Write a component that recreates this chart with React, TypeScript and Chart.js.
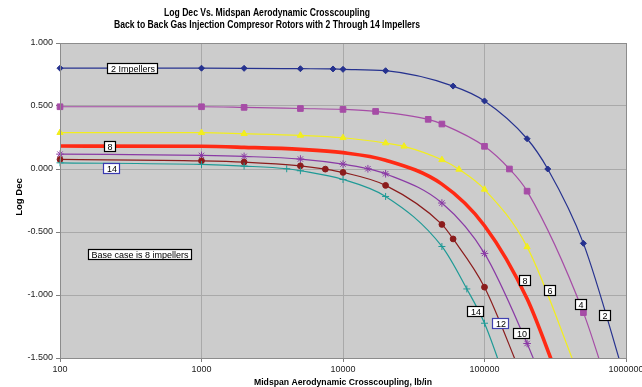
import React, { useEffect, useRef } from "react";
import { Chart, registerables } from "chart.js";

Chart.register(...registerables);

const FONT = '"Liberation Sans", Arial, Helvetica, sans-serif';

const TITLE_LINES = [
  "Log Dec Vs. Midspan Aerodynamic Crosscoupling",
  "Back to Back Gas Injection Compresor Rotors with 2 Through 14 Impellers",
];
const X_TITLE = "Midspan Aerodynamic Crosscoupling, lb/in";
const Y_TITLE = "Log Dec";

const X_TICKS = [100, 1000, 10000, 100000, 1000000];
const Y_TICKS = [-1.5, -1.0, -0.5, 0.0, 0.5, 1.0];

// Series: 2 impellers
const X_2 = [100, 1000, 2000, 5000, 8500, 10000, 20000, 60000, 100000, 200000, 280000, 500000, 1000000];
const Y_2 = [0.8, 0.8, 0.799, 0.796, 0.794, 0.791, 0.78, 0.658, 0.54, 0.24, 0.0, -0.59, -1.69];
// 4 impellers
const X_4 = [100, 1000, 2000, 5000, 10000, 17000, 40000, 50000, 100000, 150000, 200000, 500000, 700000];
const Y_4 = [0.494, 0.494, 0.489, 0.48, 0.473, 0.457, 0.394, 0.357, 0.18, 0.0, -0.176, -1.14, -1.63];
// 6 impellers
const X_6 = [100, 1000, 2000, 5000, 10000, 20000, 27000, 50000, 66000, 100000, 200000, 450000];
const Y_6 = [0.288, 0.288, 0.28, 0.267, 0.248, 0.206, 0.18, 0.073, -0.003, -0.162, -0.618, -1.6];
// 8 impellers (base case)
const X_8 = [100, 1000, 2000, 5000, 10000, 20000, 50000, 100000, 200000, 320000];
const Y_8 = [0.182, 0.18, 0.172, 0.156, 0.13, 0.07, -0.12, -0.45, -1.03, -1.61];
// 10 impellers
const X_10 = [100, 1000, 2000, 5000, 10000, 15000, 20000, 50000, 100000, 200000, 240000];
const Y_10 = [0.118, 0.108, 0.1, 0.079, 0.039, 0.002, -0.038, -0.27, -0.67, -1.385, -1.6];
// 12 impellers
const X_12 = [100, 1000, 2000, 5000, 7500, 10000, 20000, 50000, 60000, 100000, 180000];
const Y_12 = [0.076, 0.065, 0.055, 0.025, -0.001, -0.027, -0.13, -0.44, -0.555, -0.938, -1.62];
// 14 impellers
const X_14 = [100, 1000, 2000, 4000, 5000, 10000, 20000, 50000, 75000, 100000, 135000];
const Y_14 = [0.049, 0.036, 0.023, 0.002, -0.014, -0.083, -0.218, -0.615, -0.952, -1.224, -1.62];

// Annotation labels: text, x value, y value, border colour
const LABEL_TEXTS = ["2 Impellers", "8", "14", "Base case is 8 impellers", "8", "6", "4", "2", "14", "12", "10"];
const LABEL_X = [328, 226, 232, 368, 193000, 288000, 484000, 714000, 86500, 130000, 183000];
const LABEL_Y = [0.793, 0.176, 0.0, -0.686, -0.888, -0.972, -1.079, -1.168, -1.137, -1.234, -1.306];
const LABEL_BORDER = ["#000", "#000", "#3a3ab0", "#000", "#000", "#000", "#000", "#000", "#000", "#4040b0", "#000"];

const pts = (xs: number[], ys: number[]) => xs.map((x, i) => ({ x, y: ys[i] }));

const chartPlugin = {
  id: "custom",
  beforeDraw(chart: any) {
    const { ctx, chartArea: a } = chart;
    ctx.save();
    ctx.fillStyle = "#cccccc";
    ctx.fillRect(a.left, a.top, a.right - a.left, a.bottom - a.top);
    ctx.restore();
  },
  afterDatasetsDraw(chart: any) {
    const { ctx, chartArea: a, scales } = chart;
    ctx.save();
    ctx.strokeStyle = "#8c8c8c";
    ctx.lineWidth = 1;
    ctx.strokeRect(a.left + 0.5, a.top + 0.5, a.right - a.left, a.bottom - a.top);
    ctx.font = `9px ${FONT}`;
    ctx.textAlign = "center";
    ctx.textBaseline = "middle";
    LABEL_TEXTS.forEach((t, i) => {
      const px = Math.round(scales.x.getPixelForValue(LABEL_X[i]));
      const py = Math.round(scales.y.getPixelForValue(LABEL_Y[i]));
      const w = Math.ceil(ctx.measureText(t).width) + 6;
      const h = 11;
      const x0 = px - Math.round(w / 2);
      const y0 = py - Math.round(h / 2);
      ctx.fillStyle = "#ffffff";
      ctx.fillRect(x0, y0, w, h);
      ctx.strokeStyle = LABEL_BORDER[i];
      ctx.lineWidth = 1.2;
      ctx.strokeRect(x0 + 0.5, y0 + 0.5, w - 1, h - 1);
      ctx.fillStyle = "#000";
      ctx.fillText(t, px, py + 0.5);
    });
    ctx.restore();
  },
  afterDraw(chart: any) {
    const { ctx } = chart;
    ctx.save();
    ctx.fillStyle = "#000";
    ctx.textAlign = "center";
    ctx.textBaseline = "middle";
    ctx.font = `bold 10px ${FONT}`;
    ctx.fillText(TITLE_LINES[0], 267, 13, 206);
    ctx.fillText(TITLE_LINES[1], 267, 25, 306);
    ctx.font = `bold 9.5px ${FONT}`;
    ctx.fillText(X_TITLE, 343, 382, 178);
    ctx.translate(19, 197);
    ctx.rotate(-Math.PI / 2);
    ctx.fillText(Y_TITLE, 0, 0, 40);
    ctx.restore();
  },
};

export default function App() {
  const ref = useRef<HTMLCanvasElement | null>(null);
  useEffect(() => {
    if (!ref.current) return;
    const clip = { left: 6, top: 6, right: 0, bottom: 0 };
    const mk = (label: string, xs: number[], ys: number[], color: string, style: any, radius: number, width = 1.2) => ({
      label,
      data: pts(xs, ys),
      borderColor: color,
      backgroundColor: color,
      borderWidth: width,
      pointStyle: style,
      pointRadius: radius,
      pointBorderWidth: 1,
      pointBackgroundColor: color,
      pointBorderColor: color,
      cubicInterpolationMode: "monotone",
      clip,
    });
    const chart = new Chart(ref.current, {
      type: "line",
      data: {
        datasets: [
          mk("14", X_14, Y_14, "#1f9a96", "cross", 3.5),
          mk("12", X_12, Y_12, "#8b1c1c", "circle", 2.9),
          mk("10", X_10, Y_10, "#8a3aa5", "star", 3.8),
          mk("8", X_8, Y_8, "#ff2a14", false, 0, 3.6),
          mk("6", X_6, Y_6, "#f2ee1e", "triangle", 3.6),
          mk("4", X_4, Y_4, "#a64ca6", "rect", 4),
          mk("2", X_2, Y_2, "#26328f", "rectRot", 3),
        ] as any,
      },
      options: {
        animation: false,
        responsive: false,
        devicePixelRatio: 1,
        layout: { padding: { top: 43, right: 16, left: 0, bottom: 0 } },
        plugins: {
          legend: { display: false },
          tooltip: { enabled: false },
          title: { display: false },
        },
        scales: {
          x: {
            type: "logarithmic",
            min: 100,
            max: 1000000,
            afterBuildTicks: (s: any) => {
              s.ticks = X_TICKS.map((v) => ({ value: v }));
            },
            afterFit: (s: any) => {
              s.height = 29;
              s.paddingLeft = 0;
              s.paddingRight = 0;
            },
            ticks: {
              callback: (v: any) => String(v),
              font: { family: FONT, size: 9 },
              color: "#222",
              padding: 2,
              maxRotation: 0,
              autoSkip: false,
            },
            grid: { color: "#a9a9a9", tickLength: 4, tickColor: "#808080" },
            border: { color: "#808080", width: 1 },
          },
          y: {
            type: "linear",
            min: -1.5,
            max: 1,
            afterBuildTicks: (s: any) => {
              s.ticks = Y_TICKS.map((v) => ({ value: v }));
            },
            afterFit: (s: any) => {
              s.width = 60;
            },
            ticks: {
              callback: (v: any) => Number(v).toFixed(3),
              font: { family: FONT, size: 9 },
              color: "#222",
              padding: 3,
            },
            grid: { color: "#a9a9a9", tickLength: 4, tickColor: "#808080" },
            border: { color: "#808080", width: 1 },
          },
        },
      } as any,
      plugins: [chartPlugin],
    });
    return () => chart.destroy();
  }, []);
  return (
    <div style={{ position: "absolute", left: 0, top: 0, width: 642, height: 387, background: "#fff" }}>
      <canvas ref={ref} width={642} height={387} style={{ display: "block", width: 642, height: 387 }} />
    </div>
  );
}
